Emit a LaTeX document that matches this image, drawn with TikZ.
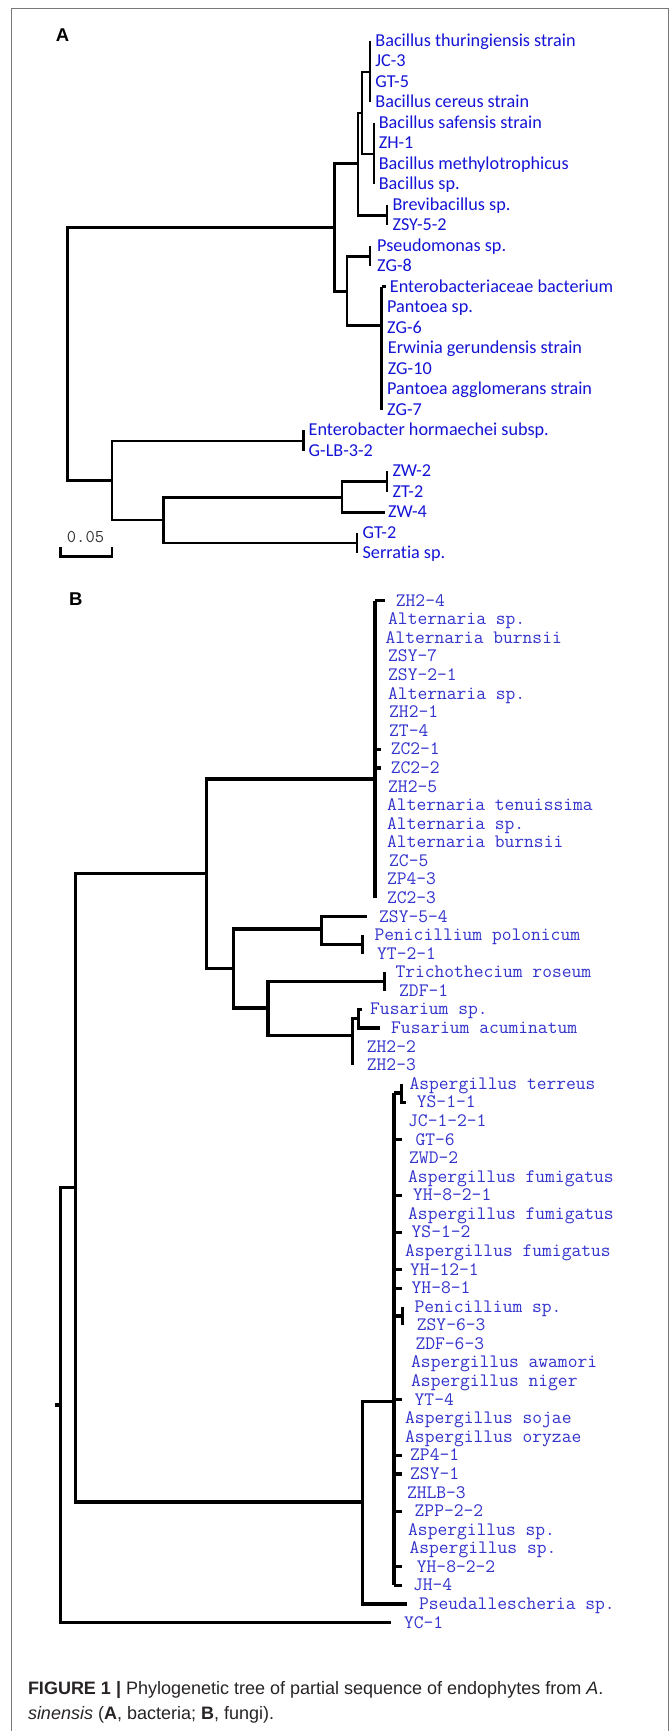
\documentclass[tikz,border=0pt]{standalone}
\usepackage{fontspec}
\setmainfont{Liberation Sans}
\newfontfamily\leaffont[Ligatures=NoCommon]{Carlito}
\definecolor{leafblue}{RGB}{20,20,215}
\definecolor{fungblue}{RGB}{50,50,205}
\definecolor{framegray}{RGB}{120,120,120}
\definecolor{captext}{RGB}{40,36,38}
\tikzset{
  branchA/.style={line width=2.6pt, line join=miter},
  branchB/.style={line width=3.2pt, line join=miter},
  cladeB/.style={line width=4.5pt},
  leafA/.style={anchor=west, inner sep=0pt, text height=13pt, text depth=2pt,
    text=leafblue, font=\leaffont\fontsize{18.2}{18}\selectfont},
  leafB/.style={anchor=west, inner sep=0pt, text height=13pt, text depth=2pt,
    text=fungblue, font=\ttfamily\fontsize{19}{19}\selectfont},
  panel/.style={inner sep=0pt, font=\bfseries\fontsize{18.5}{19}\selectfont},
  capline/.style={anchor=base west, inner sep=0pt, text=captext,
    font=\fontsize{18}{22}\selectfont},
}
\begin{document}
\begin{tikzpicture}[x=1pt, y=-1pt]
\useasboundingbox (0,0) rectangle (670,1731);
% frame
\draw[framegray, line width=1pt] (11,1731) -- (11,8.5) -- (668.5,8.5) -- (668.5,1731);

% ---- A: bacteria ----
\node[panel] (labA) at (62.6,35) {A};
\foreach \x/\t [count=\i] in {375.2/Bacillus thuringiensis strain,375.2/JC-3,375.2/GT-5,
  375.2/Bacillus cereus strain,378.6/Bacillus safensis strain,378.6/ZH-1,
  378.6/Bacillus methylotrophicus,378.6/Bacillus sp.,392.3/Brevibacillus sp.,
  392.3/ZSY-5-2,377/Pseudomonas sp.,377/ZG-8,389.7/Enterobacteriaceae bacterium,
  387/Pantoea sp.,387/ZG-6,387.7/Erwinia gerundensis strain,387.7/ZG-10,
  387/Pantoea agglomerans strain,387/ZG-7,308.5/Enterobacter hormaechei subsp.,
  308.5/G-LB-3-2,392.3/ZW-2,392.3/ZT-2,388/ZW-4,362.4/GT-2,362.4/Serratia sp.}
  \node[leafA] (a\i) at (\x,{40.7+20.5*(\i-1)}) {\t};

\coordinate (rootA) at (67.5,354);
\coordinate (nA1) at (334.6,227.7);
\coordinate (nA11) at (358,163.5);
\coordinate (nA111) at (362,113);
\coordinate (gBt) at (370,72);
\coordinate (gBs) at (374,154);
\coordinate (gBr) at (387,215.5);
\coordinate (nA12) at (347,291.7);
\coordinate (gPs) at (370,256.2);
\coordinate (gEn) at (381.6,325.7);
\coordinate (nA2) at (112,480.3);
\coordinate (gEh) at (303.4,441);
\coordinate (nA21) at (163.7,520);
\coordinate (nA211) at (341.9,497.3);
\coordinate (gZW) at (386.8,481.5);
\coordinate (gSe) at (356.8,543);

\draw[branchA] (rootA) |- (nA1) (rootA) |- (nA2)
  (nA1) |- (nA11) (nA1) |- (nA12)
  (nA11) |- (nA111) (nA11) |- (gBr)
  (nA111) |- (gBt) (nA111) |- (gBs)
  (nA12) |- (gPs) (nA12) |- (gEn)
  (nA2) |- (gEh) (nA2) |- (nA21)
  (nA21) |- (nA211) (nA21) |- (gSe)
  (nA211) |- (gZW) (nA211) |- ([xshift=-3pt]a24.west);
% leaf groups
\draw[branchA] (gBt |- a1) -- (gBt |- a4)
  (gBs |- a5) -- (gBs |- a8)
  (gBr |- a9) -- (gBr |- a10)
  (gPs |- a11) -- (gPs |- a12)
  (gEn |- a13) -- (gEn |- a19)
  (gEn |- a13) -- ([xshift=-4pt]a13.west)
  (gEh |- a20) -- (gEh |- a21)
  (gZW |- a22) -- (gZW |- a23)
  (gSe |- a25) -- (gSe |- a26);
% scale
\node[inner sep=0pt, text=black!80, font=\ttfamily\fontsize{18}{18}\selectfont] (sbtext) at (85.5,536.7) {0.05};
\coordinate (sbL) at (60.7,556.7);
\coordinate (sbR) at (112,556.7);
\draw[line width=2.6pt] ([yshift=10pt]sbL) -- (sbL) -- (sbR) -- ([yshift=10pt]sbR);

% ---- B: fungi ----
\node[panel] (labB) at (75.9,599.3) {B};
\foreach \x/\t [count=\i] in {395.7/ZH2-4,388/Alternaria sp.,385.5/Alternaria burnsii,
  388/ZSY-7,388/ZSY-2-1,388/Alternaria sp.,389/ZH2-1,389/ZT-4,390.6/ZC2-1,
  390.6/ZC2-2,388/ZH2-5,387/Alternaria tenuissima,387/Alternaria sp.,
  387/Alternaria burnsii,389/ZC-5,386.8/ZP4-3,386.8/ZC2-3,379/ZSY-5-4,
  374.4/Penicillium polonicum,377/YT-2-1,395.3/Trichothecium roseum,399/ZDF-1,
  370/Fusarium sp.,391/Fusarium acuminatum,366.7/ZH2-2,366.7/ZH2-3,
  409.4/Aspergillus terreus,416.7/YS-1-1,408/JC-1-2-1,415.4/GT-6,409/ZWD-2,
  408/Aspergillus fumigatus,412.8/YH-8-2-1,408/Aspergillus fumigatus,411.5/YS-1-2,
  405/Aspergillus fumigatus,410/YH-12-1,411.5/YH-8-1,414.5/Penicillium sp.,
  416.7/ZSY-6-3,415.4/ZDF-6-3,411/Aspergillus awamori,411/Aspergillus niger,
  414.5/YT-4,405/Aspergillus sojae,405/Aspergillus oryzae,410/ZP4-1,410/ZSY-1,
  406.8/ZHLB-3,414.5/ZPP-2-2,408/Aspergillus sp.,409.4/Aspergillus sp.,
  416.7/YH-8-2-2,412.8/JH-4,418.8/Pseudallescheria sp.,403.8/YC-1}
  \node[leafB] (b\i) at (\x,{600.7+18.58*(\i-1)}) {\t};

\coordinate (rootB) at (54.7,1405);
\coordinate (nB0) at (60.7,1405);
\coordinate (nB1) at (75.2,1187.7);
\coordinate (nB11) at (206.4,873.3);
\coordinate (gAlt) at (375,779);
\coordinate (nB112) at (233.8,968.3);
\coordinate (nB1121) at (321.4,929);
\coordinate (gPp) at (362.4,944.4);
\coordinate (nB1122) at (268,1008);
\coordinate (gTr) at (384.6,981.6);
\coordinate (nFu) at (352.6,1035.7);
\coordinate (nFu1) at (358.5,1018.7);
\coordinate (nB12) at (362.4,1502);
\coordinate (gAsp) at (394,1401.7);
\coordinate (nAsT) at (401.5,1093);
\coordinate (nPsp) at (402.6,1316);
\coordinate (tickAsp) at (402,1400);

\draw[branchB] (rootB) -- (nB0)
  (nB0) |- (nB1) (nB0) |- ([xshift=-13pt]b56.west)
  (nB1) |- (nB11) (nB1) |- (nB12)
  (nB11) |- (gAlt) (nB11) |- (nB112)
  (nB112) |- (nB1121) (nB112) |- (nB1122)
  (nB1121) |- ([xshift=-12pt]b18.west) (nB1121) |- (gPp)
  (nB1122) |- (gTr) (nB1122) |- (nFu)
  (nFu) |- (nFu1) (nFu) -- (nFu |- b26)
  (nFu1) |- ([xshift=-8pt]b23.west) (nFu1) |- ([xshift=-11pt]b24.west)
  (nB12) |- (gAsp) (nB12) |- ([xshift=-12pt]b55.west);
% Alternaria group
\draw[cladeB] (gAlt |- b1) -- (gAlt |- b17);
\draw[branchB] (gAlt |- b1) -- ([xshift=-11pt]b1.west);
\foreach \k in {9,10}
  \draw[branchB] (gAlt |- b\k) -- ([xshift=-10pt]b\k.west);
\draw[branchB] (gPp |- b19) -- (gPp |- b20)
  (gTr |- b21) -- (gTr |- b22);
% Aspergillus group
\draw[cladeB] (gAsp |- nAsT) -- (gAsp |- b54);
\draw[branchB] (gAsp |- nAsT) -- (nAsT) (nAsT |- b27) -- (nAsT |- b28) -- ([xshift=-11pt]b28.west);
\foreach \k in {30,33,35,37,38,44,47,48,50,53,54}
  \draw[branchB] (gAsp |- b\k) -- (tickAsp |- b\k);
\draw[branchB] (gAsp |- nPsp) -- (nPsp) (nPsp |- b39) -- (nPsp |- b40);

% caption
\node[capline] (cap1) at (27.8,1694) {\textbf{FIGURE 1 |} Phylogenetic tree of partial sequence of endophytes from \textit{A}.};
\node[capline] (cap2) at (27.8,1719.5) {\textit{sinensis} (\textbf{A}, bacteria; \textbf{B}, fungi).};
\end{tikzpicture}
\end{document}
